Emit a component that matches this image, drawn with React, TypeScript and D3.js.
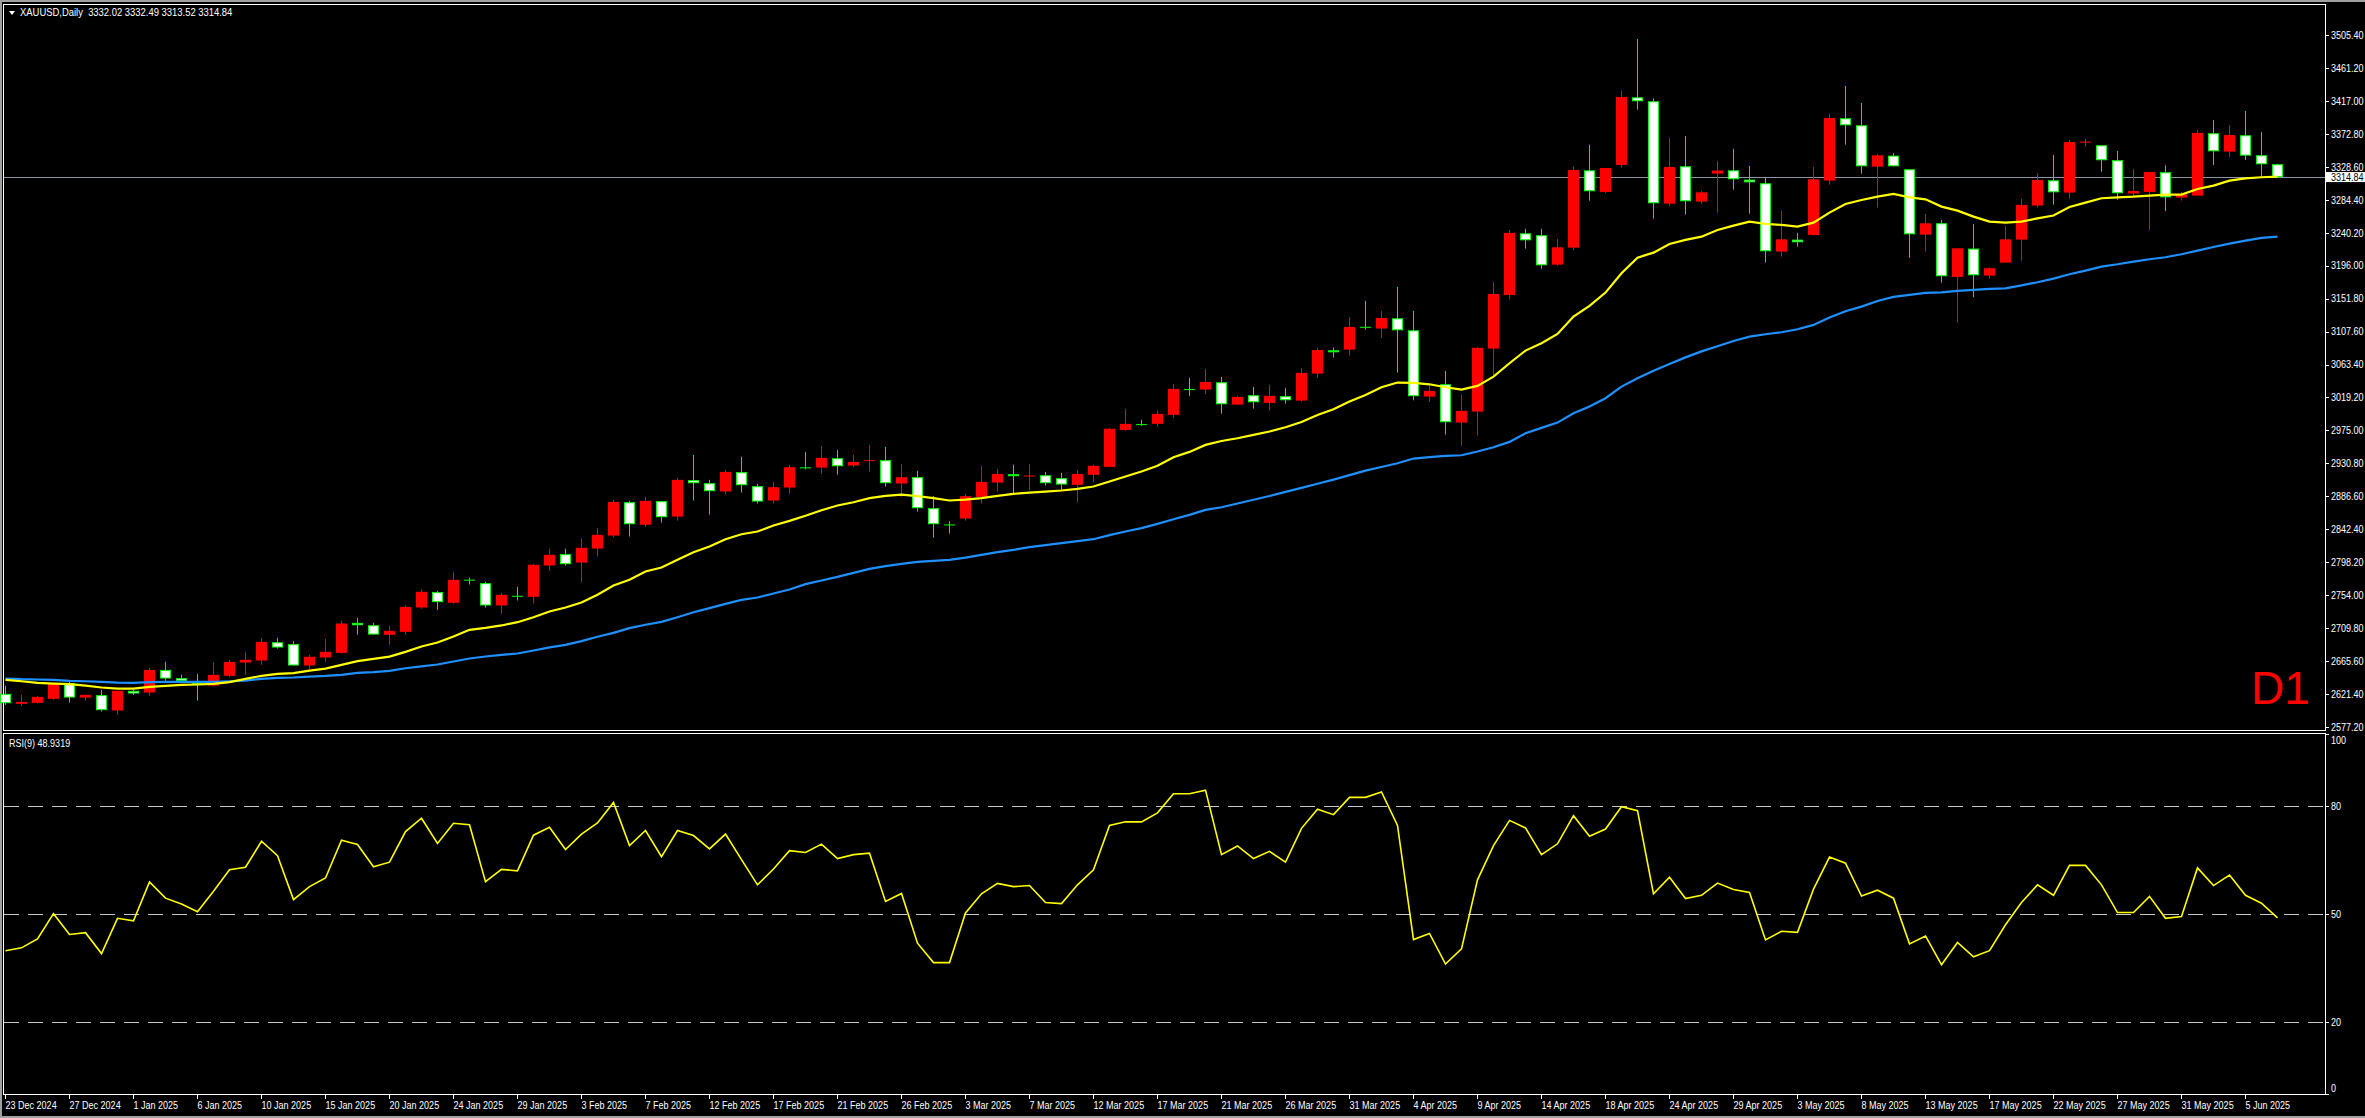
import { useEffect } from "react";
import * as d3 from "d3";

// XAUUSD daily, 23 Dec 2024 .. 6 Jun 2025 (one label every 4 bars)
const tickDates = [
  "23 Dec 2024", "27 Dec 2024", "1 Jan 2025", "6 Jan 2025", "10 Jan 2025", "15 Jan 2025",
  "20 Jan 2025", "24 Jan 2025", "29 Jan 2025", "3 Feb 2025", "7 Feb 2025", "12 Feb 2025",
  "17 Feb 2025", "21 Feb 2025", "26 Feb 2025", "3 Mar 2025", "7 Mar 2025", "12 Mar 2025",
  "17 Mar 2025", "21 Mar 2025", "26 Mar 2025", "31 Mar 2025", "4 Apr 2025", "9 Apr 2025",
  "14 Apr 2025", "18 Apr 2025", "24 Apr 2025", "29 Apr 2025", "3 May 2025", "8 May 2025",
  "13 May 2025", "17 May 2025", "22 May 2025", "27 May 2025", "31 May 2025", "5 Jun 2025",
];

const priceTicks = [
  2577.2, 2621.4, 2665.6, 2709.8, 2754.0, 2798.2, 2842.4, 2886.6, 2930.8, 2975.0, 3019.2,
  3063.4, 3107.6, 3151.8, 3196.0, 3240.2, 3284.4, 3328.6, 3372.8, 3417.0, 3461.2, 3505.4,
];
const rsiLevels = [80, 50, 20];
const rsiTicks = [100, 80, 50, 20, 0];

const opens = [
  2621.7, 2608.3, 2609.6, 2615.0, 2636.0, 2616.7, 2619.9, 2599.3, 2625.7, 2623.5,
  2653.8, 2642.7, 2637.3, 2632.8, 2645.8, 2663.7, 2666.4, 2690.9, 2688.3, 2659.7,
  2670.4, 2676.6, 2716.9, 2713.7, 2700.8, 2704.8, 2737.5, 2758.1, 2743.8, 2774.8,
  2770.1, 2740.2, 2753.2, 2751.8, 2793.8, 2809.0, 2797.8, 2816.6, 2834.0, 2878.7,
  2848.4, 2880.1, 2859.5, 2908.3, 2904.2, 2893.1, 2919.0, 2900.2, 2881.0, 2898.4,
  2925.5, 2925.2, 2937.7, 2927.9, 2934.9, 2935.1, 2903.8, 2912.3, 2870.7, 2848.9,
  2856.8, 2885.9, 2905.1, 2916.3, 2914.3, 2914.9, 2910.9, 2902.0, 2915.4, 2926.1,
  2975.7, 2983.5, 2983.8, 2995.9, 3030.5, 3029.8, 3039.6, 3009.7, 3022.2, 3011.9,
  3020.9, 3015.0, 3051.2, 3082.5, 3083.4, 3114.0, 3111.6, 3125.4, 3109.3, 3020.4,
  3036.9, 2985.5, 3000.3, 3084.8, 3156.7, 3239.4, 3236.8, 3197.4, 3220.2, 3323.9,
  3294.9, 3331.1, 3421.8, 3416.5, 3279.2, 3329.3, 3281.9, 3319.5, 3323.9, 3311.4,
  3306.5, 3214.9, 3230.9, 3237.2, 3310.1, 3393.7, 3384.3, 3328.8, 3343.6, 3325.3,
  3237.6, 3252.9, 3180.9, 3218.9, 3182.7, 3200.1, 3231.0, 3276.6, 3310.5, 3294.0,
  3362.2, 3357.5, 3337.4, 3292.7, 3294.9, 3321.3, 3287.3, 3290.0, 3373.6, 3349.0,
  3370.9, 3344.1, 3332.02,
];
const highs = [
  2632.4, 2620.3, 2619.0, 2636.0, 2638.2, 2620.3, 2627.0, 2625.7, 2627.0, 2656.1,
  2664.6, 2647.2, 2648.5, 2663.7, 2667.3, 2678.0, 2696.8, 2696.8, 2692.7, 2674.0,
  2695.4, 2719.6, 2723.6, 2716.9, 2712.9, 2740.1, 2762.1, 2759.8, 2785.3, 2777.3,
  2771.9, 2756.7, 2765.2, 2796.0, 2816.2, 2816.2, 2829.6, 2844.3, 2881.9, 2880.5,
  2885.9, 2880.1, 2911.4, 2942.2, 2908.7, 2922.1, 2939.5, 2903.3, 2906.0, 2928.8,
  2946.2, 2954.3, 2948.9, 2942.2, 2955.6, 2952.9, 2930.1, 2920.8, 2887.2, 2853.3,
  2889.9, 2927.5, 2923.4, 2928.8, 2930.1, 2919.4, 2918.1, 2922.1, 2928.8, 2978.4,
  3003.9, 2989.2, 3001.7, 3037.4, 3045.5, 3057.5, 3046.8, 3021.3, 3033.4, 3036.1,
  3031.6, 3058.8, 3086.1, 3086.1, 3127.2, 3148.7, 3135.3, 3167.5, 3135.3, 3034.7,
  3054.8, 3022.6, 3087.0, 3174.2, 3243.9, 3245.2, 3245.2, 3231.8, 3328.8, 3357.9,
  3327.0, 3430.3, 3500.0, 3420.5, 3367.3, 3369.5, 3296.2, 3336.4, 3352.5, 3329.7,
  3314.1, 3269.4, 3239.9, 3328.4, 3399.5, 3437.0, 3414.2, 3345.8, 3347.1, 3325.3,
  3265.4, 3257.3, 3219.3, 3251.9, 3193.8, 3249.3, 3285.5, 3320.3, 3344.5, 3364.6,
  3366.0, 3357.5, 3349.9, 3325.7, 3321.7, 3330.6, 3294.9, 3378.0, 3391.4, 3384.7,
  3403.5, 3375.3, 3332.49,
];
const lows = [
  2606.9, 2605.6, 2609.1, 2613.6, 2610.0, 2612.7, 2598.0, 2593.5, 2620.3, 2619.0,
  2639.1, 2637.3, 2612.7, 2631.5, 2644.0, 2647.2, 2660.6, 2682.4, 2659.7, 2654.7,
  2665.0, 2675.7, 2701.2, 2701.2, 2687.4, 2700.8, 2735.7, 2734.4, 2742.4, 2768.3,
  2737.5, 2729.5, 2746.9, 2742.9, 2786.7, 2793.8, 2771.0, 2805.9, 2831.8, 2832.7,
  2846.1, 2851.5, 2854.2, 2881.0, 2862.2, 2889.9, 2891.7, 2877.0, 2877.0, 2890.4,
  2922.6, 2917.2, 2915.8, 2926.1, 2919.9, 2899.7, 2885.9, 2866.2, 2831.4, 2836.7,
  2854.2, 2877.0, 2893.0, 2890.8, 2895.3, 2901.1, 2893.5, 2878.3, 2905.6, 2926.1,
  2974.4, 2981.1, 2979.8, 2992.3, 3021.3, 3024.0, 2997.6, 3009.2, 3004.3, 3001.6,
  3011.0, 3013.7, 3045.9, 3072.7, 3075.4, 3110.3, 3099.5, 3052.6, 3015.5, 3013.7,
  2969.5, 2954.7, 2968.1, 3047.2, 3150.9, 3218.9, 3192.1, 3196.1, 3217.1, 3283.2,
  3293.5, 3327.5, 3405.3, 3259.1, 3276.5, 3264.5, 3279.2, 3267.2, 3298.0, 3265.8,
  3200.1, 3208.2, 3221.6, 3236.3, 3304.7, 3358.3, 3319.5, 3273.9, 3329.3, 3206.8,
  3214.9, 3173.3, 3119.6, 3153.6, 3178.6, 3200.1, 3202.8, 3274.3, 3277.9, 3286.0,
  3355.7, 3322.2, 3284.6, 3289.5, 3243.9, 3269.4, 3283.3, 3290.0, 3331.1, 3341.8,
  3337.8, 3314.6, 3313.52,
];
const closes = [
  2609.1, 2610.9, 2617.6, 2635.1, 2616.7, 2620.3, 2599.8, 2625.7, 2622.1, 2653.8,
  2642.2, 2639.1, 2635.1, 2647.1, 2664.6, 2667.3, 2691.4, 2683.8, 2659.7, 2671.3,
  2678.0, 2716.0, 2713.7, 2701.2, 2706.2, 2738.3, 2758.5, 2744.7, 2774.6, 2774.4,
  2740.2, 2754.5, 2752.8, 2794.7, 2808.1, 2795.6, 2817.5, 2834.9, 2879.2, 2849.2,
  2880.5, 2858.6, 2908.7, 2904.2, 2893.5, 2919.4, 2901.5, 2879.6, 2898.9, 2925.7,
  2925.2, 2938.2, 2927.0, 2932.8, 2935.1, 2904.2, 2912.3, 2870.7, 2849.2, 2848.6,
  2886.8, 2906.0, 2916.7, 2913.6, 2914.5, 2904.2, 2902.4, 2916.7, 2927.5, 2977.1,
  2983.8, 2983.2, 2997.2, 3030.7, 3030.2, 3040.1, 3010.1, 3019.9, 3012.8, 3021.3,
  3015.5, 3052.1, 3082.9, 3079.8, 3113.8, 3113.7, 3125.9, 3109.3, 3020.9, 3028.0,
  2986.0, 3001.2, 3085.7, 3158.1, 3239.9, 3230.0, 3196.5, 3220.7, 3324.4, 3295.8,
  3327.0, 3422.2, 3416.5, 3279.7, 3328.4, 3282.4, 3294.4, 3323.5, 3311.9, 3307.8,
  3215.3, 3231.4, 3227.4, 3311.9, 3394.1, 3384.3, 3329.3, 3344.0, 3329.3, 3238.1,
  3252.9, 3181.8, 3219.3, 3183.1, 3192.5, 3231.4, 3277.5, 3311.0, 3294.4, 3361.9,
  3362.4, 3337.4, 3293.1, 3296.2, 3321.7, 3287.7, 3291.8, 3374.0, 3349.4, 3371.3,
  3343.6, 3332.0, 3314.84,
];

// moving averages (yellow fast, blue slow)
const maFast = [
  2640.4, 2638.6, 2636.4, 2635.5, 2634.6, 2632.8, 2630.2, 2628.8, 2628.8, 2631.0,
  2632.4, 2633.7, 2634.2, 2635.1, 2637.3, 2641.8, 2645.8, 2648.5, 2649.4, 2652.9,
  2655.6, 2660.6, 2665.5, 2668.6, 2671.7, 2678.0, 2685.2, 2690.6, 2698.6, 2707.6,
  2710.2, 2713.4, 2717.8, 2724.5, 2732.1, 2737.5, 2744.2, 2754.5, 2767.0, 2774.6,
  2785.8, 2791.1, 2801.4, 2811.7, 2819.3, 2829.1, 2835.8, 2839.4, 2847.5, 2853.7,
  2860.5, 2868.0, 2874.3, 2878.7, 2884.1, 2887.2, 2889.0, 2886.8, 2884.1, 2881.0,
  2882.3, 2884.1, 2887.2, 2889.9, 2891.7, 2893.0, 2894.4, 2896.6, 2899.8, 2906.5,
  2913.2, 2919.9, 2927.5, 2939.1, 2946.2, 2955.6, 2960.8, 2964.5, 2969.0, 2973.5,
  2979.3, 2986.4, 2995.8, 3003.4, 3013.7, 3022.6, 3032.9, 3039.2, 3038.7, 3036.9,
  3032.9, 3029.8, 3034.7, 3047.2, 3065.1, 3082.1, 3091.9, 3104.4, 3127.7, 3142.0,
  3159.9, 3185.8, 3206.8, 3213.5, 3225.1, 3230.5, 3234.9, 3243.9, 3249.7, 3255.1,
  3252.0, 3250.6, 3248.4, 3253.7, 3267.2, 3278.8, 3284.1, 3288.6, 3292.2, 3287.7,
  3285.0, 3275.2, 3269.8, 3261.8, 3255.1, 3253.7, 3255.0, 3259.5, 3263.2, 3274.8,
  3280.6, 3286.4, 3287.7, 3288.6, 3290.0, 3291.3, 3291.3, 3298.9, 3303.4, 3310.1,
  3313.2, 3314.6, 3315.5,
];
const maSlow = [
  2642.2, 2641.3, 2640.9, 2640.4, 2639.1, 2638.6, 2637.7, 2636.8, 2636.4, 2637.3,
  2637.7, 2637.7, 2637.7, 2637.7, 2638.6, 2639.5, 2641.8, 2643.1, 2643.6, 2644.9,
  2645.8, 2647.2, 2649.8, 2650.7, 2652.5, 2656.0, 2658.6, 2661.0, 2665.1, 2669.1,
  2671.8, 2674.0, 2675.8, 2679.8, 2683.9, 2687.4, 2692.4, 2698.2, 2703.5, 2709.8,
  2714.3, 2718.3, 2724.5, 2731.2, 2736.6, 2742.4, 2747.8, 2750.9, 2756.3, 2761.6,
  2768.8, 2773.7, 2778.5, 2784.0, 2789.3, 2792.9, 2796.0, 2798.7, 2800.1, 2801.4,
  2804.5, 2808.1, 2811.7, 2814.8, 2818.4, 2821.1, 2823.8, 2826.4, 2829.1, 2834.5,
  2839.4, 2843.9, 2849.7, 2855.9, 2861.8, 2868.5, 2872.0, 2877.0, 2882.0, 2887.0,
  2892.5, 2898.0, 2903.5, 2909.0, 2915.0, 2921.0, 2926.0, 2931.0, 2937.3, 2939.1,
  2940.8, 2941.7, 2946.7, 2952.5, 2959.6, 2971.2, 2978.4, 2985.5, 2998.1, 3007.0,
  3018.2, 3033.8, 3045.0, 3055.0, 3064.0, 3073.0, 3081.0, 3088.0, 3095.0, 3100.9,
  3104.0, 3106.7, 3110.7, 3116.5, 3126.4, 3134.8, 3141.1, 3148.7, 3154.1, 3156.8,
  3159.4, 3160.3, 3162.1, 3163.4, 3164.8, 3165.5, 3169.5, 3173.7, 3178.7, 3184.5,
  3189.4, 3194.8, 3197.9, 3201.5, 3204.6, 3207.3, 3211.3, 3216.2, 3221.1, 3225.6,
  3229.6, 3233.2, 3235.0,
];

const rsi = [
  39.8, 40.6, 43.1, 50.1, 44.3, 44.8, 39.0, 48.8, 48.1, 58.9,
  54.4, 52.8, 50.6, 56.3, 62.3, 63.0, 70.2, 66.2, 54.0, 57.6,
  60.0, 70.5, 69.3, 63.1, 64.4, 72.9, 76.6, 69.6, 75.2, 74.8,
  59.0, 62.4, 62.0, 71.9, 74.1, 67.9, 72.2, 75.3, 81.0, 69.0,
  73.2, 65.9, 73.2, 71.8, 68.1, 72.2, 65.1, 58.1, 62.5, 67.6,
  67.1, 69.4, 65.4, 66.5, 66.9, 53.5, 55.7, 41.9, 36.5, 36.5,
  50.3, 55.6, 58.5, 57.6, 57.9, 53.2, 52.9, 58.1, 62.3, 74.6,
  75.6, 75.6, 78.1, 83.4, 83.4, 84.4, 66.5, 68.9, 65.4, 67.4,
  64.4, 73.8, 79.1, 77.6, 82.4, 82.4, 83.9, 74.6, 42.9, 44.6,
  36.1, 40.3, 59.5, 69.0, 76.0, 73.9, 66.5, 69.5, 77.3, 71.6,
  73.6, 79.8, 78.7, 55.6, 60.2, 54.3, 55.2, 58.6, 56.8, 56.0,
  42.8, 45.2, 44.9, 56.9, 65.8, 64.1, 55.0, 56.6, 54.4, 41.7,
  43.9, 35.9, 42.1, 38.1, 39.8, 47.0, 53.2, 58.1, 55.2, 63.5,
  63.5, 58.1, 50.4, 50.4, 54.9, 48.8, 49.3, 62.8, 57.9, 60.8,
  55.2, 53.0, 48.93,
];

const W = 2365;
const H = 1118;
const FONT = "'Liberation Sans', Arial, sans-serif";
const UP = "#ff0000";
const DOWN = "#00ff00";

function Txt({ x, y, children, fill = "#fff", size = 10.5, sx = 0.86 }: any) {
  return (
    <text transform={`translate(${x},${y}) scale(${sx},1)`} fill={fill} fontSize={size} fontFamily={FONT}
      style={{ whiteSpace: "pre" }}>
      {children}
    </text>
  );
}

export default function App() {
  useEffect(() => {
    document.body.style.margin = "0";
    document.body.style.background = "#000";
  }, []);

  const n = closes.length;
  const plotLeft = 4;
  const plotRight = 2325;
  const main = { top: 4, bottom: 731 };
  const sub = { top: 733, bottom: 1095 };

  /* ---------------- SCALES ---------------- */
  const x = d3
    .scaleBand<number>()
    .domain(d3.range(n))
    .range([-2.67, -2.67 + n * 16]);
  const cx = (i: number) => Math.round(x(i)! + x.bandwidth() / 2);

  const y = d3.scaleLinear().domain([2577.2, 3505.4]).range([727, 35]);
  const yr = d3.scaleLinear().domain([0, 100]).range([1094, 734]);

  const maLine = d3
    .line<number>()
    .x((_, i) => cx(i) + 0.5)
    .y(d => y(d));
  const rsiLine = d3
    .line<number>()
    .x((_, i) => cx(i) + 0.5)
    .y(d => yr(d));

  const last = closes[n - 1];

  return (
    <svg width={W} height={H} style={{ position: "absolute", left: 0, top: 0, display: "block" }}>
      <rect x={0} y={0} width={W} height={H} fill="#000" />
      {/* window edges */}
      <rect x={0} y={0} width={W} height={2} fill="#a0a0a0" />
      <rect x={0} y={0} width={2} height={H} fill="#a0a0a0" />
      <rect x={0} y={H - 2} width={W} height={2} fill="#a0a0a0" />

      {/* ---------------- MAIN PANEL ---------------- */}
      <line x1={plotLeft} x2={plotRight} y1={Math.round(y(last)) + 0.5} y2={Math.round(y(last)) + 0.5}
        stroke="#8a96a3" strokeWidth={1} />

      {/* wicks */}
      {closes.map((c, i) => (
        <line key={`w${i}`} x1={cx(i) + 0.5} x2={cx(i) + 0.5} y1={y(highs[i])} y2={y(lows[i])}
          stroke={c >= opens[i] ? UP : DOWN} strokeWidth={1} />
      ))}

      {/* bodies */}
      {closes.map((c, i) => {
        const o = opens[i];
        const top = y(Math.max(o, c));
        const h = Math.abs(y(o) - y(c));
        if (c >= o) {
          return <rect key={`b${i}`} x={cx(i) - 5} y={top} width={11} height={Math.max(1, h)} fill={UP} />;
        }
        if (h < 2) {
          return <rect key={`b${i}`} x={cx(i) - 5} y={top} width={11} height={Math.max(1, h)} fill={DOWN} />;
        }
        return (
          <rect key={`b${i}`} x={cx(i) - 4.5} y={top + 0.5} width={10} height={h - 1}
            fill="#fff" stroke={DOWN} strokeWidth={1} />
        );
      })}

      {/* moving averages */}
      <path d={maLine(maSlow)!} fill="none" stroke="#1e90ff" strokeWidth={2.2} />
      <path d={maLine(maFast)!} fill="none" stroke="#ffff00" strokeWidth={2.2} />

      {/* frame */}
      <rect x={plotLeft - 0.5} y={main.top + 0.5} width={plotRight - plotLeft + 1} height={main.bottom - main.top - 1}
        fill="none" stroke="#fff" strokeWidth={1} />

      {/* title */}
      <path d="M9,11 L15,11 L12,15 Z" fill="#fff" />
      <Txt x={20} y={16} sx={0.9}>{"XAUUSD,Daily\u00a0\u00a03332.02 3332.49 3313.52 3314.84"}</Txt>

      <text x={2251} y={704} fill="#ff0000" fontSize={46} fontFamily={FONT}>D1</text>

      {/* price axis */}
      {priceTicks.map(p => (
        <g key={`p${p}`}>
          <line x1={plotRight + 1} x2={plotRight + 4} y1={Math.round(y(p)) + 0.5} y2={Math.round(y(p)) + 0.5} stroke="#fff" />
          <Txt x={plotRight + 6} y={y(p) + 3.8}>{p.toFixed(2)}</Txt>
        </g>
      ))}
      <rect x={plotRight + 1} y={y(last) - 5} width={W - plotRight - 1} height={10} fill="#fff" />
      <Txt x={plotRight + 6} y={y(last) + 3.8} fill="#000">{last.toFixed(2)}</Txt>

      {/* ---------------- RSI PANEL ---------------- */}
      {rsiLevels.map(v => (
        <line key={`l${v}`} x1={plotLeft} x2={plotRight} y1={Math.round(yr(v)) + 0.5} y2={Math.round(yr(v)) + 0.5}
          stroke="#c8c8c8" strokeWidth={1} strokeDasharray="15 9" />
      ))}
      <path d={rsiLine(rsi)!} fill="none" stroke="#ffff00" strokeWidth={1.6} />

      <rect x={plotLeft - 0.5} y={sub.top + 0.5} width={plotRight - plotLeft + 1} height={sub.bottom - sub.top - 1}
        fill="none" stroke="#fff" strokeWidth={1} />
      <Txt x={9} y={747}>RSI(9) 48.9319</Txt>

      {rsiTicks.map(v => {
        const ty = Math.min(Math.max(yr(v), 740), 1088);
        return (
          <g key={`r${v}`}>
            <line x1={plotRight + 1} x2={plotRight + 4} y1={Math.round(yr(v)) + 0.5} y2={Math.round(yr(v)) + 0.5} stroke="#fff" />
            <Txt x={plotRight + 6} y={ty + 3.8}>{v}</Txt>
          </g>
        );
      })}

      {/* time axis */}
      {tickDates.map((t, k) => {
        const tx = cx(k * 4) + 0.5;
        return (
          <g key={`t${k}`}>
            <line x1={tx} x2={tx} y1={sub.bottom} y2={sub.bottom + 4} stroke="#fff" />
            <Txt x={tx} y={1108.5}>{t}</Txt>
          </g>
        );
      })}
    </svg>
  );
}
